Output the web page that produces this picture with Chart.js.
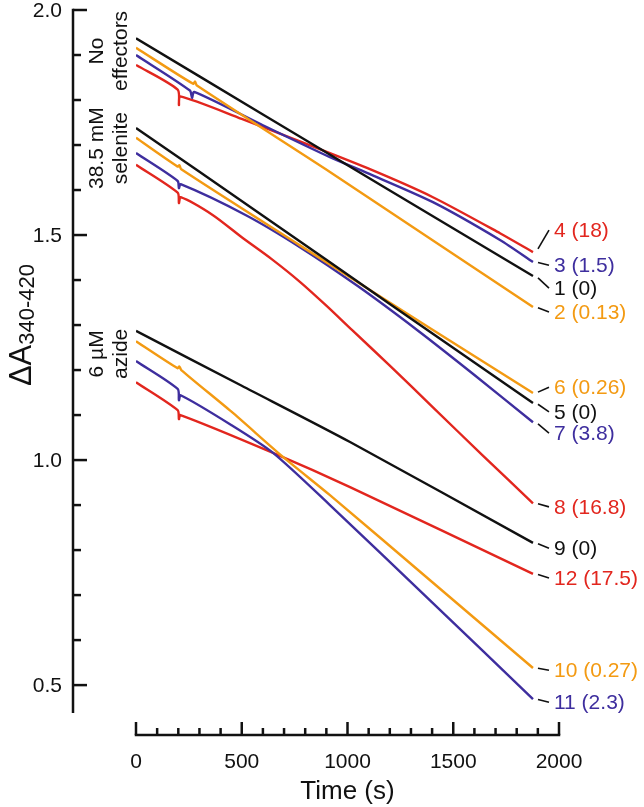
<!DOCTYPE html>
<html>
<head>
<meta charset="utf-8">
<script src="https://cdn.jsdelivr.net/npm/chart.js@4/dist/chart.umd.min.js"></script>
<style>
html,body{margin:0;padding:0;background:#fff;}
#wrap{width:644px;height:807px;}
canvas{display:block;}
</style>
</head>
<body>
<div id="wrap"><canvas id="c" width="644" height="807"></canvas></div>
<script>
// ---------- axis / tick definitions ----------
const xMin = 0, xMax = 2000;
const yMin = 0.438, yMax = 2.0;
const xMajorTicks = [0, 500, 1000, 1500, 2000];
const xTickLabels = ['0', '500', '1000', '1500', '2000'];
const xMinorStep = 100;
const yMajorTicks = [0.5, 1.0, 1.5, 2.0];
const yTickLabels = ['0.5', '1.0', '1.5', '2.0'];
const yMinorStep = 0.1;
const xTitle = 'Time (s)';
const yTitleMain = '\u0394A';
const yTitleSub = '340-420';

// ---------- series data: time (s) and ΔA340-420 ----------
// group "No effectors"
const times1 = [0, 600, 1200, 1877];
const vals1  = [1.937, 1.768, 1.599, 1.409];
const times2 = [0, 270, 279, 288, 917, 1404, 1877];
const vals2  = [1.916, 1.836, 1.841, 1.832, 1.640, 1.488, 1.340];
const times3 = [0, 255, 265, 275, 600, 917, 1092, 1404, 1721, 1877];
const vals3  = [1.900, 1.821, 1.805, 1.818, 1.744, 1.673, 1.638, 1.573, 1.489, 1.440];
const times4 = [0, 197, 203, 209, 500, 775, 1092, 1404, 1721, 1877];
const vals4  = [1.878, 1.823, 1.789, 1.808, 1.758, 1.708, 1.649, 1.584, 1.504, 1.462];
// group "38.5 mM selenite"
const times5 = [0, 600, 1200, 1877];
const vals5  = [1.738, 1.543, 1.347, 1.127];
const times6 = [0, 197, 205, 214, 775, 1404, 1877];
const vals6  = [1.716, 1.652, 1.655, 1.646, 1.477, 1.289, 1.149];
const times7 = [0, 197, 203, 211, 520, 775, 1050, 1329, 1600, 1877];
const vals7  = [1.682, 1.620, 1.604, 1.613, 1.544, 1.473, 1.386, 1.289, 1.189, 1.084];
const times8 = [0, 197, 203, 211, 364, 500, 640, 775, 900, 1021, 1200, 1404, 1640, 1877];
const vals8  = [1.656, 1.594, 1.571, 1.584, 1.544, 1.495, 1.447, 1.396, 1.343, 1.289, 1.210, 1.117, 1.010, 0.904];
// group "6 µM azide"
const times9  = [0, 500, 1012, 1877];
const vals9   = [1.287, 1.165, 1.040, 0.816];
const times10 = [0, 197, 205, 214, 450, 695, 917, 1400, 1877];
const vals10  = [1.264, 1.204, 1.208, 1.200, 1.108, 1.007, 0.922, 0.729, 0.538];
const times11 = [0, 197, 203, 211, 450, 648, 917, 1400, 1877];
const vals11  = [1.220, 1.158, 1.133, 1.144, 1.078, 1.016, 0.900, 0.684, 0.469];
const times12 = [0, 197, 203, 210, 648, 1012, 1877];
const vals12  = [1.173, 1.111, 1.091, 1.100, 1.016, 0.940, 0.747];

// ---------- end labels ----------
const seriesLabels = ['1 (0)', '2 (0.13)', '3 (1.5)', '4 (18)', '5 (0)', '6 (0.26)',
                      '7 (3.8)', '8 (16.8)', '9 (0)', '10 (0.27)', '11 (2.3)', '12 (17.5)'];
const labelValues  = [1.382, 1.329, 1.433, 1.511, 1.107, 1.162,
                      1.060, 0.896, 0.804, 0.533, 0.462, 0.738];

// ---------- group annotations (two lines each, rotated) ----------
const groupLine1 = ['No', '38.5 mM', '6 \u00B5M'];
const groupLine2 = ['effectors', 'selenite', 'azide'];
const groupCenterValues = [1.909, 1.693, 1.236];

// ---------- styles ----------
const BLACK = '#111111', ORANGE = '#F39A12', BLUE = '#3E2E9E', RED = '#E2261E';
const seriesColors = [BLACK, ORANGE, BLUE, RED, BLACK, ORANGE, BLUE, RED, BLACK, ORANGE, BLUE, RED];
const FONT = '"Liberation Sans", Arial, Helvetica, sans-serif';

const allTimes = [times1, times2, times3, times4, times5, times6, times7, times8, times9, times10, times11, times12];
const allVals  = [vals1, vals2, vals3, vals4, vals5, vals6, vals7, vals8, vals9, vals10, vals11, vals12];

const datasets = allTimes.map((ts, i) => ({
  label: seriesLabels[i],
  data: ts.map((t, j) => ({x: t, y: allVals[i][j]})),
  borderColor: seriesColors[i],
  backgroundColor: seriesColors[i],
  borderWidth: 2.4,
  pointRadius: 0,
  fill: false,
  tension: 0.25,
  borderJoinStyle: 'round'
}));

const decorPlugin = {
  id: 'decor',
  afterDraw(chart) {
    const ctx = chart.ctx;
    const xs = chart.scales.x, ys = chart.scales.y;
    const yAxisX = xs.getPixelForValue(xMin) - 63;
    const xAxisY = ys.getPixelForValue(yMin) + 22;
    ctx.save();
    ctx.strokeStyle = BLACK;
    ctx.fillStyle = BLACK;
    ctx.lineWidth = 2.5;
    ctx.lineCap = 'butt';

    // y axis line
    ctx.beginPath();
    ctx.moveTo(yAxisX, ys.getPixelForValue(yMax) - 1.25);
    ctx.lineTo(yAxisX, ys.getPixelForValue(yMin));
    ctx.stroke();
    // y ticks
    for (let v = yMajorTicks[0]; v <= yMax + 1e-9; v += yMinorStep) {
      const vv = Math.round(v * 1000) / 1000;
      const major = yMajorTicks.some(m => Math.abs(m - vv) < 1e-6);
      const py = ys.getPixelForValue(vv);
      ctx.beginPath();
      ctx.moveTo(yAxisX, py);
      ctx.lineTo(yAxisX + (major ? 14 : 8), py);
      ctx.stroke();
    }
    // y tick labels
    ctx.font = '21px ' + FONT;
    ctx.textAlign = 'right';
    ctx.textBaseline = 'middle';
    yMajorTicks.forEach((v, i) => {
      ctx.fillText(yTickLabels[i], yAxisX - 11, ys.getPixelForValue(v) + 1);
    });

    // x axis line
    ctx.beginPath();
    ctx.moveTo(xs.getPixelForValue(xMin) - 1.25, xAxisY);
    ctx.lineTo(xs.getPixelForValue(xMax) + 1.25, xAxisY);
    ctx.stroke();
    for (let v = xMin; v <= xMax + 1e-9; v += xMinorStep) {
      const major = xMajorTicks.includes(v);
      const px = xs.getPixelForValue(v);
      ctx.beginPath();
      ctx.moveTo(px, xAxisY);
      ctx.lineTo(px, xAxisY - (major ? 13 : 7));
      ctx.stroke();
    }
    ctx.textAlign = 'center';
    ctx.textBaseline = 'alphabetic';
    xMajorTicks.forEach((v, i) => {
      ctx.fillText(xTickLabels[i], xs.getPixelForValue(v), xAxisY + 33);
    });
    // x title
    ctx.font = '26px ' + FONT;
    ctx.fillText(xTitle, (xs.getPixelForValue(xMin) + xs.getPixelForValue(xMax)) / 2, xAxisY + 64);

    // y title (rotated)
    const mainFont = '31px ' + FONT, subFont = '22px ' + FONT;
    ctx.font = mainFont;
    const wMain = ctx.measureText(yTitleMain).width;
    ctx.font = subFont;
    const wSub = ctx.measureText(yTitleSub).width;
    const total = wMain + wSub;
    const cy = ys.getPixelForValue(1.3);
    ctx.save();
    ctx.translate(31, cy);
    ctx.rotate(-Math.PI / 2);
    ctx.textAlign = 'left';
    ctx.textBaseline = 'alphabetic';
    ctx.font = mainFont;
    ctx.fillText(yTitleMain, -total / 2, 0);
    ctx.font = subFont;
    ctx.fillText(yTitleSub, -total / 2 + wMain, 3);
    ctx.restore();

    // group annotations
    ctx.font = '21px ' + FONT;
    groupLine1.forEach((txt, i) => {
      const cyg = ys.getPixelForValue(groupCenterValues[i]);
      ctx.save();
      ctx.translate(yAxisX + 30, cyg);
      ctx.rotate(-Math.PI / 2);
      ctx.textAlign = 'center';
      ctx.textBaseline = 'alphabetic';
      ctx.fillText(txt, 0, 0);
      ctx.fillText(groupLine2[i], 0, 24);
      ctx.restore();
    });

    // end labels with leader lines
    ctx.lineWidth = 1.6;
    ctx.font = '21px ' + FONT;
    ctx.textAlign = 'left';
    ctx.textBaseline = 'middle';
    allTimes.forEach((ts, i) => {
      const n = ts.length - 1;
      const ex = xs.getPixelForValue(ts[n]);
      const ey = ys.getPixelForValue(allVals[i][n]);
      const ly = ys.getPixelForValue(labelValues[i]);
      ctx.strokeStyle = BLACK;
      ctx.beginPath();
      ctx.moveTo(ex + 5, ey + (ly - ey) * 0.15);
      ctx.lineTo(ex + 16, ly);
      ctx.stroke();
      ctx.fillStyle = seriesColors[i];
      ctx.fillText(seriesLabels[i], ex + 21, ly + 1);
    });
    ctx.restore();
  }
};

new Chart(document.getElementById('c'), {
  type: 'line',
  data: { datasets: datasets },
  options: {
    responsive: false,
    animation: false,
    devicePixelRatio: 1,
    layout: { padding: { left: 136, right: 85, top: 10, bottom: 94 } },
    scales: {
      x: { type: 'linear', min: xMin, max: xMax, display: false },
      y: { type: 'linear', min: yMin, max: yMax, display: false }
    },
    plugins: { legend: { display: false }, tooltip: { enabled: false } },
    elements: { point: { radius: 0 } }
  },
  plugins: [decorPlugin]
});
</script>
</body>
</html>
